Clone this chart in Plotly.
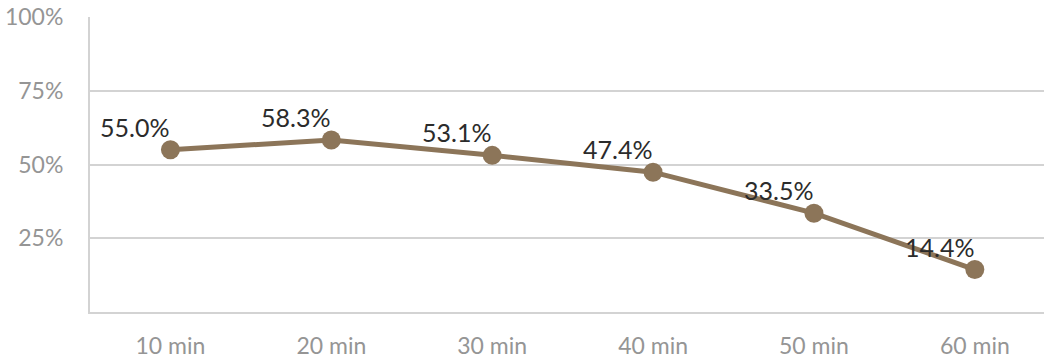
import plotly.graph_objects as go

categories = ["10 min", "20 min", "30 min", "40 min", "50 min", "60 min"]
values = [55.0, 58.3, 53.1, 47.4, 33.5, 14.4]
y_tick_vals = [25, 50, 75, 100]
y_tick_text = ["25%", "50%", "75%", "100%"]

line_color = "#8c7559"
grid_color = "#d3d3d3"
font_family = "Lato, 'Noto Sans', sans-serif"

fig = go.Figure()
fig.add_trace(go.Scatter(
    x=list(range(len(categories))),
    y=values,
    mode="lines+markers",
    line=dict(color=line_color, width=5),
    marker=dict(color=line_color, size=19),
    hoverinfo="skip",
    cliponaxis=False,
))

# value labels above and to the left of each point
for i, v in enumerate(values):
    fig.add_annotation(
        x=i, y=v, text=f"{v:.1f}%", showarrow=False,
        xanchor="right", yanchor="bottom", xshift=1, yshift=6,
        font=dict(family=font_family, size=25, color="#2b2b2b"),
    )

fig.update_layout(
    width=1044, height=360,
    margin=dict(l=90, r=0, t=17, b=48),
    paper_bgcolor="white", plot_bgcolor="white",
    showlegend=False,
    font=dict(family=font_family),
)
fig.update_xaxes(
    range=[-0.5, 5.43],
    tickvals=list(range(len(categories))),
    ticktext=categories,
    showgrid=False, zeroline=False,
    showline=True, linecolor=grid_color, linewidth=2,
    ticks="outside", ticklen=12, tickcolor="rgba(0,0,0,0)",
    tickfont=dict(size=23, color="#959595"),
)
fig.update_yaxes(
    range=[0, 100],
    tickvals=y_tick_vals,
    ticktext=y_tick_text,
    showgrid=True, gridcolor=grid_color, gridwidth=2,
    zeroline=False,
    showline=True, linecolor=grid_color, linewidth=2,
    ticks="outside", ticklen=20, tickcolor="rgba(0,0,0,0)",
    tickfont=dict(size=23, color="#959595"),
)

fig.write_html("out.html")
